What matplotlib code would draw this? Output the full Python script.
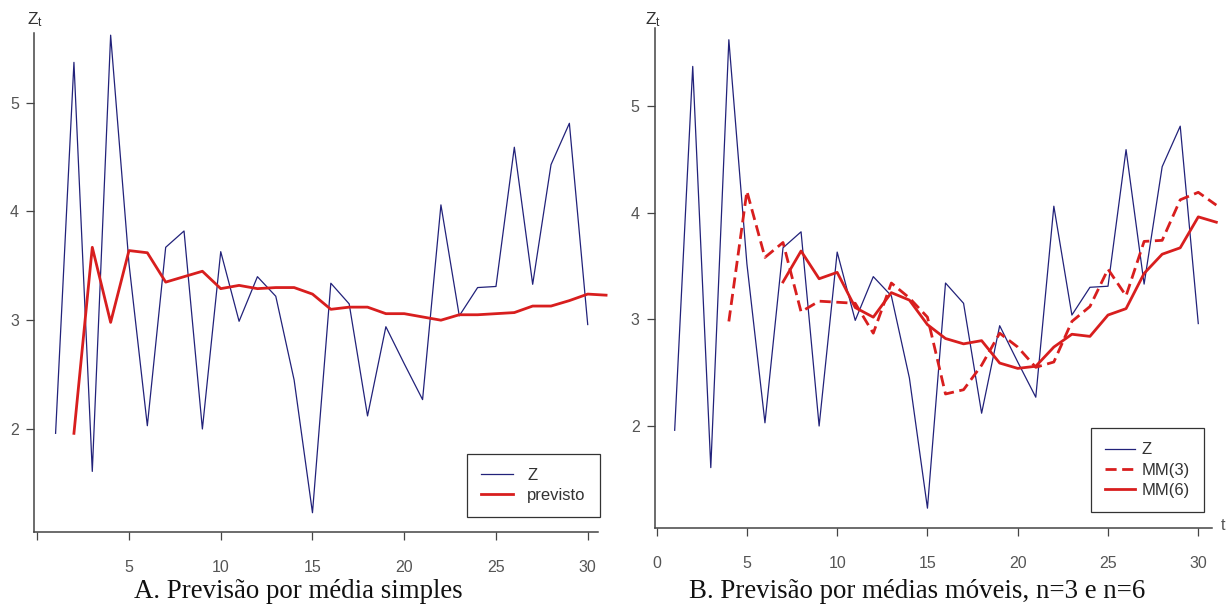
import numpy as np
import matplotlib
matplotlib.use("Agg")
import matplotlib.pyplot as plt

# serie observada Z_t, t = 1..30
t_obs = np.arange(1, 31)
z = [1.96, 5.37, 1.61, 5.62, 3.52, 2.03, 3.67, 3.82, 2.00, 3.63,
     2.99, 3.40, 3.22, 2.45, 1.23, 3.34, 3.15, 2.12, 2.94, 2.60,
     2.27, 4.06, 3.04, 3.30, 3.31, 4.59, 3.33, 4.43, 4.81, 2.96]

# previsao por media simples, t = 2..31
t_prev = np.arange(2, 32)
previsto = [1.96, 3.67, 2.98, 3.64, 3.62, 3.35, 3.40, 3.45, 3.29, 3.32,
            3.29, 3.30, 3.30, 3.24, 3.10, 3.12, 3.12, 3.06, 3.06, 3.03,
            3.00, 3.05, 3.05, 3.06, 3.07, 3.13, 3.13, 3.18, 3.24, 3.23]

# medias moveis n=3 (t = 4..31) e n=6 (t = 7..31)
t_mm3 = np.arange(4, 32)
mm3 = [2.98, 4.20, 3.58, 3.72, 3.07, 3.17, 3.16, 3.15, 2.87, 3.34,
       3.20, 3.02, 2.30, 2.34, 2.57, 2.87, 2.74, 2.55, 2.60, 2.98,
       3.12, 3.47, 3.22, 3.73, 3.74, 4.12, 4.19, 4.07]
t_mm6 = np.arange(7, 32)
mm6 = [3.35, 3.64, 3.38, 3.44, 3.11, 3.02, 3.25, 3.18, 2.95, 2.82,
       2.77, 2.80, 2.59, 2.54, 2.56, 2.74, 2.86, 2.84, 3.04, 3.10,
       3.43, 3.61, 3.67, 3.96, 3.91]

xticks = [0, 5, 10, 15, 20, 25, 30]
yticks = [2, 3, 4, 5]

navy = "#22227a"
red = "#d81e1e"
gray = "#555555"
sans = ["Liberation Sans", "DejaVu Sans"]
serif = ["Liberation Serif", "DejaVu Serif"]

W, H = 1230, 606
fig = plt.figure(figsize=(W / 100, H / 100), dpi=100)


def px_axes(x0, y_top, x1, y_bot):
    return fig.add_axes([x0 / W, 1 - y_bot / H, (x1 - x0) / W, (y_bot - y_top) / H])


def style(ax, xlabels):
    for s in ["top", "right"]:
        ax.spines[s].set_visible(False)
    for s in ["left", "bottom"]:
        ax.spines[s].set_color("#444444")
        ax.spines[s].set_linewidth(1.1)
    ax.set_xticks(xticks)
    ax.set_xticklabels(xlabels)
    ax.set_yticks(yticks)
    ax.tick_params(axis="x", direction="out", length=5.5, width=0.9, pad=15,
                   colors="#444444", labelcolor=gray, labelsize=11.5)
    ax.tick_params(axis="y", direction="out", length=6, width=0.9, pad=5,
                   colors="#444444", labelcolor=gray, labelsize=11.5)
    for lab in ax.get_xticklabels() + ax.get_yticklabels():
        lab.set_family(sans)


# ---- painel A ----
ax1 = px_axes(34.3, 33, 598, 532)
ax1.plot(t_obs, z, color=navy, lw=0.9, label="Z")
ax1.plot(t_prev, previsto, color=red, lw=2.0, label="previsto", clip_on=False)
ax1.set_xlim(-0.16, 30.56)
ax1.set_ylim(1.053, 5.64)
style(ax1, ["", "5", "10", "15", "20", "25", "30"])
leg1 = ax1.legend(loc="lower left", bbox_to_anchor=((467.3 - 34.3) / 563.7, (532 - 517.3) / 499),
                  borderaxespad=0, fancybox=False, edgecolor="#333333", framealpha=1,
                  prop={"family": sans, "size": 12}, handlelength=1.9,
                  handletextpad=0.85, borderpad=0.85, labelspacing=0.3)
leg1.get_frame().set_linewidth(0.9)
for txt in leg1.get_texts():
    txt.set_color("#333333")
fig.text(35 / W, 1 - 20 / H, r"$\mathregular{Z_t}$", ha="center", va="center",
         fontsize=12.5, color="#333333", family=sans)

# ---- painel B ----
ax2 = px_axes(655, 28, 1212, 527.7)
ax2.plot(t_obs, z, color=navy, lw=0.9, label="Z")
ax2.plot(t_mm3, mm3, color=red, lw=2.0, ls=(0, (4, 2)), label="MM(3)", clip_on=False)
ax2.plot(t_mm6, mm6, color=red, lw=2.0, label="MM(6)", clip_on=False)
ax2.set_xlim(-0.09, 30.76)
ax2.set_ylim(1.047, 5.73)
style(ax2, [str(v) for v in xticks])
leg2 = ax2.legend(loc="lower left", bbox_to_anchor=((1091 - 655) / 557, (527.7 - 512.3) / 499.7),
                  borderaxespad=0, fancybox=False, edgecolor="#333333", framealpha=1,
                  prop={"family": sans, "size": 12}, handlelength=1.8,
                  handletextpad=0.4, borderpad=0.85, labelspacing=0.32)
leg2.get_frame().set_linewidth(0.9)
for txt in leg2.get_texts():
    txt.set_color("#333333")
fig.text(653 / W, 1 - 20 / H, r"$\mathregular{Z_t}$", ha="center", va="center",
         fontsize=12.5, color="#333333", family=sans)
fig.text(1223 / W, 1 - 526 / H, "t", ha="center", va="center",
         fontsize=11.5, color=gray, family=sans)

# legendas das figuras
fig.text(298 / W, 1 - 598 / H, "A. Previsão por média simples", ha="center",
         va="baseline", fontsize=19.4, family=serif, color="#111111")
fig.text(917 / W, 1 - 598 / H, "B. Previsão por médias móveis, n=3 e n=6", ha="center",
         va="baseline", fontsize=19.4, family=serif, color="#111111")

fig.savefig("out.png", dpi=100, facecolor="white")
